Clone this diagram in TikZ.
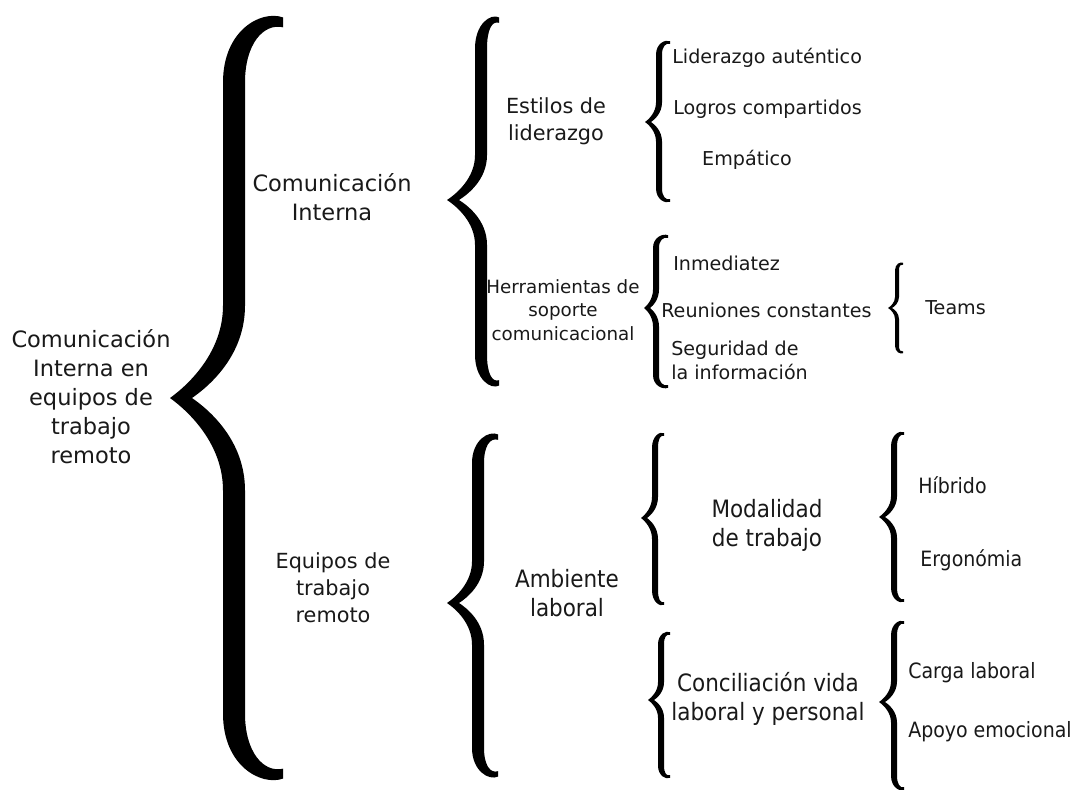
\documentclass[tikz,border=0pt]{standalone}
\usepackage{fontspec}
\setmainfont{DejaVu Sans}
\newfontfamily\narrowfont{DejaVu Sans Condensed}
\usepackage{tikz}

% curly brace opening to the right, drawn as a filled shape
% #1 tip x, #2 stem x, #3 cusp x, #4 top y, #5 cusp y, #6 bottom y, #7 half width
\newcommand{\curly}[7]{%
  \pgfmathsetmacro{\ca}{0.09*(#6-#4)}%
  \pgfmathsetmacro{\cb}{0.12*(#6-#4)}%
  \pgfmathsetmacro{\cd}{#1-#2}%
  \pgfmathsetmacro{\ce}{#2-#3}%
  \fill[black] (#1,#4+0.4*#7) .. controls (#1-0.45*\cd,#4-0.3*#7) and (#2-#7,#4+0.25*\ca) .. (#2-#7,#4+\ca)
    -- (#2-#7,#5-\cb) .. controls (#2-#7,#5-0.5*\cb) and (#3+0.3*\ce,#5-0.15*\cb) .. (#3,#5)
    .. controls (#3+0.3*\ce,#5+0.15*\cb) and (#2-#7,#5+0.5*\cb) .. (#2-#7,#5+\cb)
    -- (#2-#7,#6-\ca) .. controls (#2-#7,#6-0.25*\ca) and (#1-0.45*\cd,#6+0.3*#7) .. (#1,#6-0.4*#7)
    -- (#1,#6-1.3*#7) .. controls (#1-0.4*\cd,#6-0.9*#7) and (#2+#7,#6-0.45*\ca) .. (#2+#7,#6-\ca)
    -- (#2+#7,#5+\cb) .. controls (#2+#7,#5+0.45*\cb) and (#3+2*#7+0.25*\ce,#5+0.12*\cb) .. (#3+2*#7,#5)
    .. controls (#3+2*#7+0.25*\ce,#5-0.12*\cb) and (#2+#7,#5-0.45*\cb) .. (#2+#7,#5-\cb)
    -- (#2+#7,#4+\ca) .. controls (#2+#7,#4+0.45*\ca) and (#1-0.4*\cd,#4+0.9*#7) .. (#1,#4+1.3*#7)
    -- cycle;}

\tikzset{
  txt/.style={inner sep=0pt, align=center, text=black!90},
  big/.style={txt, font=\fontsize{16}{20.6}\selectfont},
  mid/.style={txt, font=\fontsize{14.8}{19.2}\selectfont},
  small/.style={txt, font=\fontsize{13}{16.7}\selectfont},
  item/.style={txt, align=left, anchor=west, font=\fontsize{13.6}{17}\selectfont},
  nmid/.style={txt, font=\narrowfont\fontsize{17}{20.6}\selectfont},
  nitem/.style={txt, anchor=west, font=\narrowfont\fontsize{15}{19}\selectfont}
}

\begin{document}
\begin{tikzpicture}[x=0.025cm,y=-0.025cm]

\useasboundingbox (0,0) rectangle (1078,789);
\fill[white] (0,0) rectangle (1078,789);

%Braces
\curly{283}{234}{170}{13}{398}{783}{11}
\curly{499}{481}{447}{15}{200}{388}{6}
\curly{498}{478}{447}{432}{603}{779}{6}
\curly{670}{659}{645}{40}{122}{203}{3}
\curly{668}{656}{644}{234}{308}{389}{3}
\curly{903}{897}{888}{262}{308}{354}{2}
\curly{664}{655}{641}{432}{518}{606}{3}
\curly{670}{661}{648}{631}{700}{779}{3}
\curly{904}{894}{879}{431}{517}{603}{3}
\curly{904}{894}{879}{620}{702}{791}{3}

%Texts
\node[big] (root) at (91,397) {Comunicación\\Interna en\\equipos de\\trabajo\\remoto};
\node[big] (ci) at (332,197) {Comunicación\\Interna};
\node[mid] (eq) at (333,588) {Equipos de\\trabajo\\remoto};

\node[mid] (estilos) at (556,121) {Estilos de\\liderazgo};
\node[small] (herr) at (563,310) {Herramientas de\\soporte\\comunicacional};
\node[nmid] (ambiente) at (567,593) {Ambiente\\laboral};

\node[item] (lider) at (672,58) {Liderazgo auténtico};
\node[item] (logros) at (673,109) {Logros compartidos};
\node[item, anchor=center] (empatico) at (747,160) {Empático};
\node[item] (inmed) at (673,263) {Inmediatez};
\node[item] (reun) at (661,310) {Reuniones constantes};
\node[item] (segur) at (671,360) {Seguridad de\\la información};
\node[item] (teams) at (925,308) {Teams};

\node[nmid] (modal) at (767,525) {Modalidad\\de trabajo};
\node[nmid] (concil) at (768,699) {Conciliación vida\\laboral y personal};

\node[nitem] (hibrido) at (918,485) {Híbrido};
\node[nitem] (ergo) at (920,560) {Ergonómia};
\node[nitem] (carga) at (908,673) {Carga laboral};
\node[nitem] (apoyo) at (908,732) {Apoyo emocional};

\end{tikzpicture}
\end{document}
